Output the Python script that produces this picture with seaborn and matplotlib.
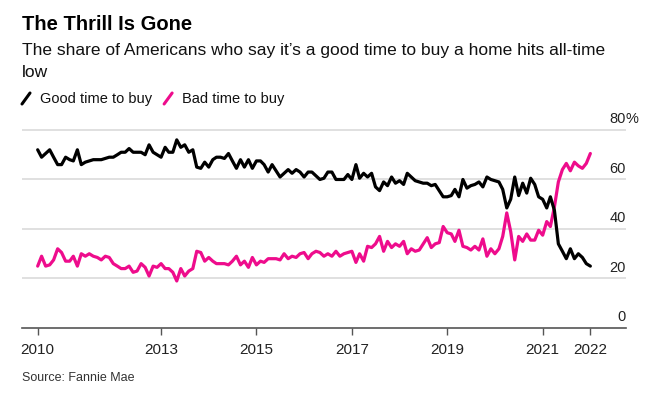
import matplotlib
matplotlib.use("Agg")
import matplotlib.pyplot as plt
import matplotlib.transforms as mtransforms
from matplotlib.lines import Line2D
import numpy as np
import pandas as pd
import seaborn as sns

# Fannie Mae National Housing Survey, monthly from June 2010 to January 2022
start_month = "2010-06-01"
good_time = [
    72, 69, 70.5, 72, 69, 66, 66, 69, 68, 67.5,
    72, 66, 67, 67.5, 68, 68, 68, 68.5, 69, 69,
    70, 71, 71, 72.5, 71, 71, 71, 70, 74, 71,
    70, 69, 73, 71, 71, 76, 73, 74, 71, 72,
    65, 64.5, 67, 65, 68, 69, 69, 68.5, 70.5, 67.5,
    64.5, 68, 65, 68, 64.5, 67.5, 67.5, 66, 63, 66,
    63.5, 61, 62.5, 64, 62.5, 64, 63, 61, 63, 63,
    61.5, 60, 60.5, 63, 63, 60, 60, 60, 62, 60,
    66, 60.5, 62.5, 61, 62.5, 57, 55.5, 59, 57.5, 61,
    58.5, 59.5, 58, 62.5, 61, 59.5, 59, 58.5, 58.5, 57.5,
    58, 55.5, 53, 53, 53.5, 56, 53, 60, 56.5, 57.5,
    58, 59, 57, 61, 60, 59.5, 59, 56, 48.5, 52,
    61, 53.5, 58.5, 54.5, 60.5, 58, 53, 52, 48.5, 53,
    47.5, 34, 31, 28, 32, 28, 30, 28.5, 26, 25,
]
bad_time = [
    25, 29, 25, 25.5, 27.5, 32, 30.5, 27, 27, 29,
    25, 30, 29, 30, 29, 28.5, 27.5, 29, 28.5, 26,
    25, 24, 24, 25, 22.5, 23, 26, 24.5, 21, 25,
    24.5, 26, 24, 24, 22.5, 19, 24, 21, 23, 24,
    31, 30.5, 27, 28.5, 27, 26, 26, 26, 25.5, 27,
    29, 25.5, 27, 24.5, 28.5, 25.5, 27, 26.5, 28, 28,
    28, 27.5, 30, 28, 29, 28.5, 30, 30.5, 28, 30,
    31, 30.5, 29, 30, 29, 31, 29, 30, 30.5, 31,
    26.5, 30, 27, 33, 32.5, 34, 37, 31, 35, 32.5,
    34, 33, 35, 30, 32, 31, 31.5, 34, 36.5, 32.5,
    34, 34.5, 41, 38.5, 38, 35, 39.5, 33, 32.5, 31.5,
    33, 31.5, 36, 29, 32, 30, 32, 37, 46.5, 39,
    27.5, 37, 35, 38, 35.5, 35.5, 39.5, 37.5, 43, 41,
    49, 59, 64, 66.5, 63.5, 67, 65.5, 64.5, 66.5, 70.5,
]
series_names = ["Good time to buy", "Bad time to buy"]
series_colors = ["#000000", "#ee0c8c"]
tick_dates = ["2010-06-01", "2013-01-01", "2015-01-01", "2017-01-01",
              "2019-01-01", "2021-01-01", "2022-01-01"]
tick_labels = ["2010", "2013", "2015", "2017", "2019", "2021", "2022"]
y_ticks = [0, 20, 40, 60, 80]

dates = pd.date_range(start_month, periods=len(good_time), freq="MS")
df = pd.DataFrame({"date": dates, series_names[0]: good_time, series_names[1]: bad_time})
long_df = df.melt(id_vars="date", var_name="answer", value_name="share")

sns.set_theme(style="white")
plt.rcParams["font.family"] = ["Liberation Sans", "DejaVu Sans"]

W, H = 661, 399
fig = plt.figure(figsize=(W / 100, H / 100), dpi=100)
ax = fig.add_axes([22 / W, 1 - 328 / H, (626 - 22) / W, (328 - 127.5) / H])

# gridlines first, lines on top
for v in y_ticks[1:]:
    ax.axhline(v, color="#e0e0e0", lw=1.4, zorder=0)

sns.lineplot(data=long_df, x="date", y="share", hue="answer",
             palette=dict(zip(series_names, series_colors)),
             hue_order=series_names[::-1], linewidth=2.3, legend=False, ax=ax)

ax.set_ylim(0, 81)
ax.set_xlim(pd.Timestamp("2010-02-01"), pd.Timestamp("2022-10-01"))
ax.set_xlabel("")
ax.set_ylabel("")
ax.set_yticks([])
ax.set_xticks(pd.to_datetime(tick_dates))
ax.set_xticklabels(tick_labels, fontsize=11, color="#222222")
ax.tick_params(axis="x", length=5, width=1, color="#555555", pad=6, bottom=True)
for side in ["top", "right", "left"]:
    ax.spines[side].set_visible(False)
ax.spines["bottom"].set_color("#555555")
ax.spines["bottom"].set_linewidth(1.2)

# y labels sit above their gridlines, right aligned
trans = mtransforms.blended_transform_factory(ax.transAxes, ax.transData)
for v in y_ticks:
    off = mtransforms.offset_copy(trans, fig=fig, x=0, y=5, units="points")
    ax.text(1.0, v, str(v), transform=off, ha="right", va="baseline",
            fontsize=10.5, color="#222222", clip_on=False)
off = mtransforms.offset_copy(trans, fig=fig, x=0, y=5, units="points")
ax.text(1.0, 80, "%", transform=off, ha="left", va="baseline",
        fontsize=10.5, color="#222222", clip_on=False)

# titles
fig.text(22 / W, 1 - 15 / H, "The Thrill Is Gone", ha="left", va="top",
         fontsize=14.5, fontweight="bold", color="black")
fig.text(22 / W, 1 - 43 / H,
         "The share of Americans who say it\u2019s a good time to buy a home hits all-time\nlow",
         ha="left", va="top", fontsize=12.5, color="#111111", linespacing=1.6)

# legend with slash markers
leg_y = 1 - 99 / H
x0 = 22
for name, color in zip(series_names, series_colors):
    fig.add_artist(Line2D([x0 / W, (x0 + 8) / W], [leg_y - 5 / H, leg_y + 6 / H],
                          color=color, lw=2.2, transform=fig.transFigure))
    t = fig.text((x0 + 18) / W, leg_y, name, ha="left", va="center",
                 fontsize=10.5, color="#111111")
    fig.canvas.draw()
    bb = t.get_window_extent()
    x0 = bb.x1 + 12

fig.text(22 / W, 1 - 378 / H, "Source: Fannie Mae", ha="left", va="center",
         fontsize=9, color="#333333")

fig.savefig("out.png", dpi=100)
